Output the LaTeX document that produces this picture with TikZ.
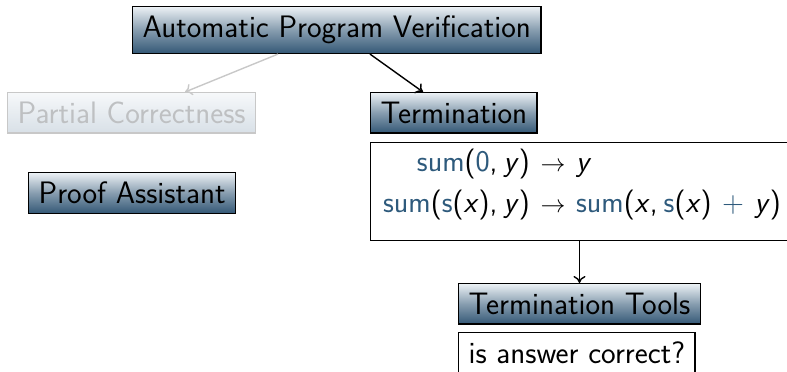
\documentclass[tikz,border=0pt]{standalone}
\usetikzlibrary{calc,arrows.meta}
\definecolor{shadetop}{RGB}{236,241,245}
\definecolor{shadebot}{RGB}{52,88,118}
\definecolor{fadetop}{RGB}{246,248,250}
\definecolor{fadebot}{RGB}{216,224,231}
\definecolor{fadeline}{RGB}{200,200,200}
\definecolor{fadetext}{RGB}{190,192,194}
\definecolor{mathblue}{RGB}{46,90,124}
\newcommand{\fn}[1]{\textcolor{mathblue}{#1}}
\newcommand{\var}[1]{\textsl{#1}}
\newcommand{\sep}{,\hspace{0.2em}}
\newcommand{\arr}{\hspace{0.35em}$\rightarrow$\hspace{0.35em}}
\newcommand{\plusop}{\hspace{0.35em}\fn{+}\hspace{0.35em}}
\tikzset{
  base/.style={font=\sffamily\fontsize{31}{37}\selectfont},
  boxed/.style={base, line width=1.4pt, anchor=north west, inner xsep=10pt, inner ysep=9.3pt},
  blockbox/.style={boxed, draw=black, top color=shadetop, bottom color=shadebot, middle color=shadetop!45!shadebot},
  fadedbox/.style={boxed, draw=fadeline, top color=fadetop, bottom color=fadebot, text=fadetext},
  plainbox/.style={boxed, draw=black, fill=white},
  ruletext/.style={font=\sffamily\fontsize{30}{36}\selectfont, inner sep=0pt},
  tip/.style={-{To[length=7pt, width=12pt]}},
  link/.style={tip, line width=1.4pt, black},
  fadedlink/.style={tip, line width=1.4pt, fadeline}
}
\begin{document}
\begin{tikzpicture}[x=1pt, y=1pt]
\useasboundingbox (0,0) rectangle (787,372);

% headings and tool boxes
\node[blockbox] (top) at (132,366) {Automatic Program Verification};
\node[fadedbox] (partial) at (7,280) {Partial Correctness};
\node[blockbox] (term) at (370,280) {Termination};
\node[blockbox] (proof) at (28,200) {Proof Assistant};

% box holding the rewrite rules
\node[draw=black, line width=1.4pt, fill=white, anchor=north west,
      minimum width=416.5pt, minimum height=98pt, inner sep=0pt] (rules) at (370,230) {};
\node[ruletext, anchor=base east] (l1) at (530,200)
  {\fn{sum}(\fn{0}\sep\var{y})};
\node[ruletext, anchor=base west] (r1) at (530,200)
  {\arr\var{y}};
\node[ruletext, anchor=base east] (l2) at (530,159)
  {\fn{sum}(\fn{s}(\var{x})\sep\var{y})};
\node[ruletext, anchor=base west] (r2) at (530,159)
  {\arr\fn{sum}(\var{x}\sep\fn{s}(\var{x})\plusop\var{y})};

\node[blockbox] (tools) at (458,89) {Termination Tools};
\node[plainbox] (answer) at (458,40) {is answer correct?};

% connectors
\draw[fadedlink] ([xshift=146pt]top.south west) -- ([xshift=178pt]partial.north west);
\draw[link] ([xshift=238pt]top.south west) -- ([xshift=53pt]term.north west);
\draw[link] (rules.south -| tools.north) -- (tools.north);
\end{tikzpicture}
\end{document}
